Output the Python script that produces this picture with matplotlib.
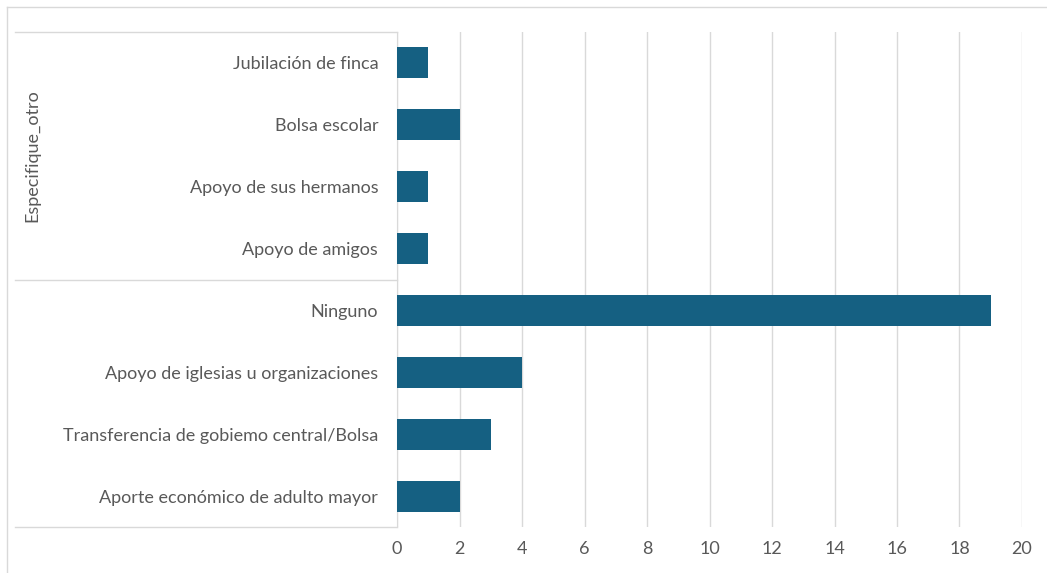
import matplotlib.pyplot as plt
from matplotlib.lines import Line2D
import matplotlib.transforms as mtransforms

# categories top to bottom, with their counts
categories = ['Jubilación de finca', 'Bolsa escolar', 'Apoyo de sus hermanos',
              'Apoyo de amigos', 'Ninguno', 'Apoyo de iglesias u organizaciones',
              'Transferencia de gobiemo central/Bolsa',
              'Aporte económico de adulto mayor']
values = [1, 2, 1, 1, 19, 4, 3, 2]
group_label = 'Especifique_otro'
group_size = 4  # first four categories belong to the group
x_ticks = list(range(0, 21, 2))

plt.rcParams['font.family'] = ['Lato', 'DejaVu Sans']
text_color = '#595959'
grid_color = '#d9d9d9'
bar_color = '#156082'
fs = 13

W, H = 1047, 573
fig = plt.figure(figsize=(W / 100, H / 100), dpi=100)
ax = fig.add_axes([397 / W, (H - 527) / H, (1022 - 397) / W, (527 - 32) / H])

pos = list(range(len(categories)))
ax.barh(pos, values, height=0.5, color=bar_color, zorder=3)
ax.set_ylim(len(categories) - 0.5, -0.5)
ax.set_xlim(0, 20)
ax.set_xticks(x_ticks)
ax.set_yticks(pos)
ax.set_yticklabels(categories)
ax.tick_params(axis='both', length=0, colors=text_color, labelsize=fs)
ax.tick_params(axis='x', pad=10)
ax.tick_params(axis='y', pad=13.5)
ax.grid(axis='x', color=grid_color, linewidth=1, zorder=0)
for s in ['top', 'right', 'bottom']:
    ax.spines[s].set_visible(False)
ax.spines['left'].set_color(grid_color)

# multi-level category axis separators
trans = mtransforms.blended_transform_factory(fig.transFigure, ax.transData)
x0 = 15 / W
x1 = 397 / W
for yb in [-0.5, group_size - 0.5, len(categories) - 0.5]:
    fig.add_artist(Line2D([x0, x1], [yb, yb], transform=trans,
                          color=grid_color, linewidth=1))

fig.text(32 / W, (H - 156) / H, group_label, rotation=90, ha='center',
         va='center', color=text_color, fontsize=fs)

# chart border (left and top)
fig.add_artist(Line2D([7 / W, 7 / W], [0, (H - 7) / H], transform=fig.transFigure,
                      color=grid_color, linewidth=1))
fig.add_artist(Line2D([7 / W, 1], [(H - 7) / H, (H - 7) / H], transform=fig.transFigure,
                      color=grid_color, linewidth=1))

fig.savefig('out.png', dpi=100)
